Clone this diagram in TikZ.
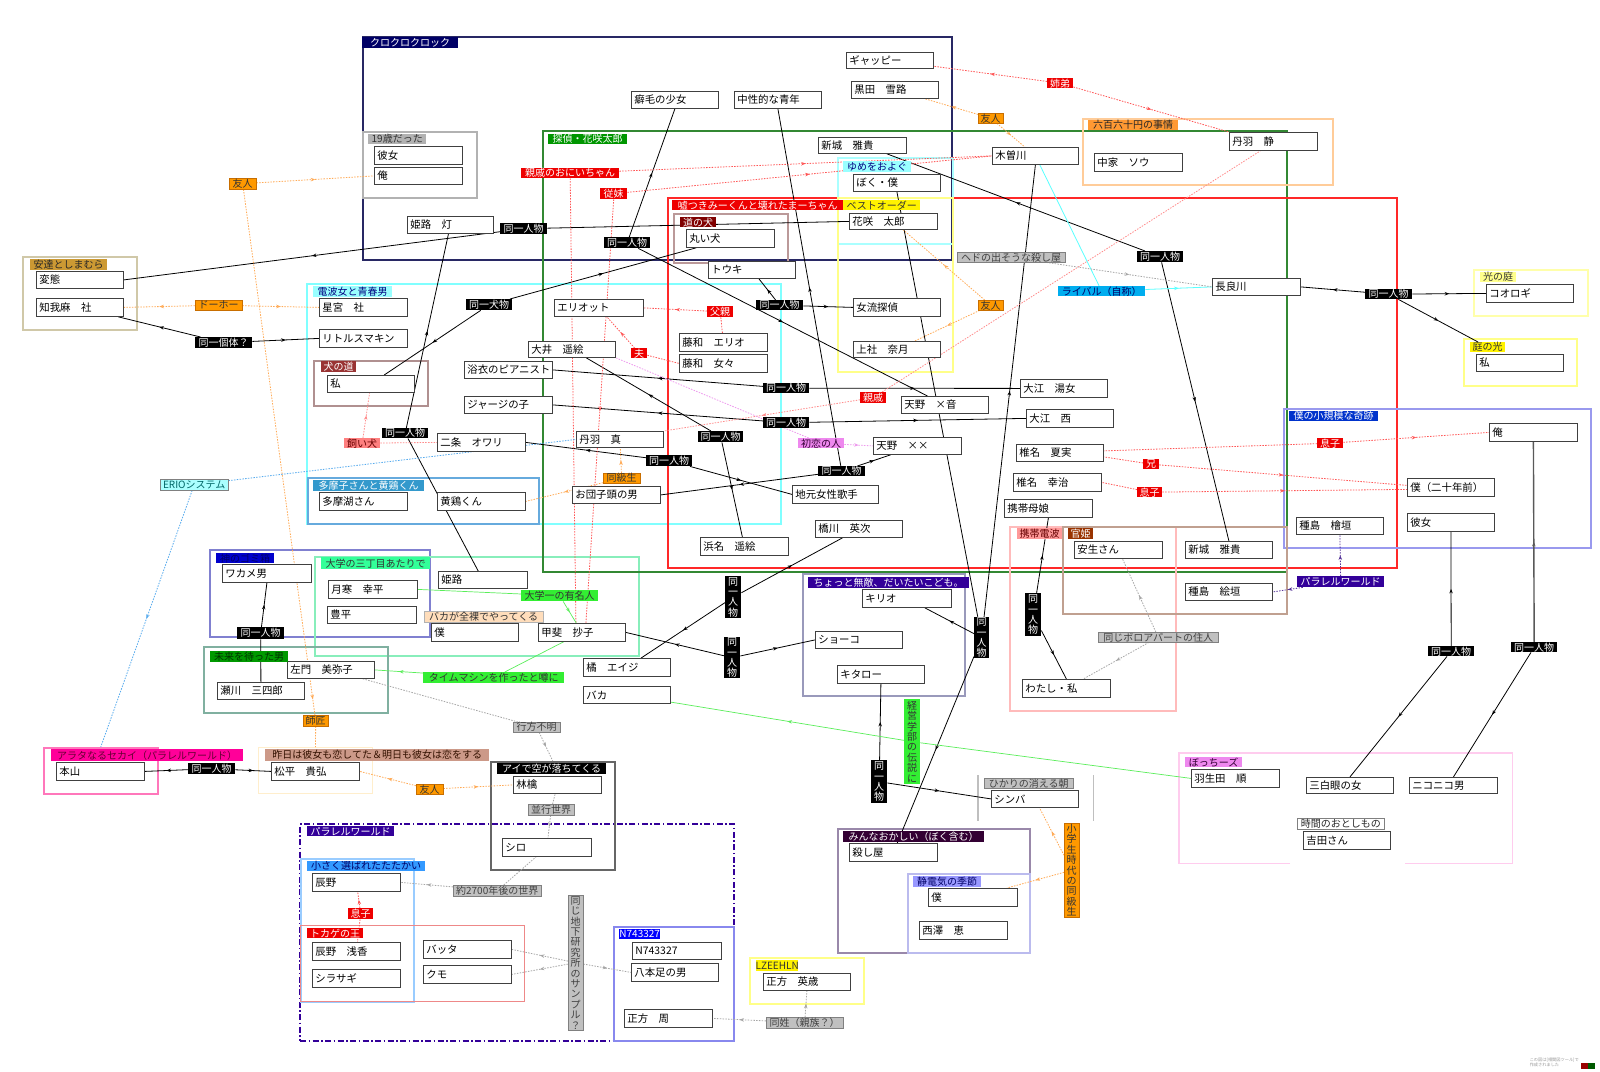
\documentclass[tikz,border=0pt]{standalone}
\usepackage{fontspec}
\newfontfamily\jp{Noto Sans CJK JP}
\usetikzlibrary{decorations.markings,arrows.meta}
\pgfdeclarelayer{bgw}\pgfdeclarelayer{grp}\pgfdeclarelayer{edges}\pgfsetlayers{bgw,grp,edges,main}
\definecolor{cNavy}{HTML}{000066}
\definecolor{cOr}{HTML}{FF9900}
\definecolor{cRd}{HTML}{EE0000}
\definecolor{cGy}{HTML}{C0C0C0}
\definecolor{cBocchi}{HTML}{FFCCEE}
\newcommand\PB[6]{\pgfmathsetmacro\pbw{#4-#2}\pgfmathsetmacro\pbh{#5-#3}\pgfmathsetmacro\pbt{#4-#2-6}\node[pbox,minimum width=\pbw pt,minimum height=\pbh pt,anchor=north west] (#1) at (#2,#3) {\makebox[\pbt pt][l]{#6}};}
\newcommand\LB[7]{\pgfmathsetmacro\pbw{#4-#2}\pgfmathsetmacro\pbh{#5-#3}\pgfmathsetmacro\pbt{#4-#2-2}\node[lab,#6,minimum width=\pbw pt,minimum height=\pbh pt,anchor=north west] (#1) at (#2,#3) {\makebox[\pbt pt][c]{#7}};}
\newcommand\VB[7]{\pgfmathsetmacro\pbw{#4-#2}\pgfmathsetmacro\pbh{#5-#3}\node[vlab,#6,minimum width=\pbw pt,minimum height=\pbh pt,anchor=north west] (#1) at (#2,#3) {#7};}
\newcommand\GB[6]{\pgfmathsetmacro\pbw{#4-#2}\pgfmathsetmacro\pbh{#5-#3}\node[grp,#6,minimum width=\pbw pt,minimum height=\pbh pt,anchor=north west] (#1) at (#2,#3) {};}
\tikzset{
 pbox/.style={draw=black!75,fill=white,line width=0.8pt,inner xsep=3pt,inner ysep=0pt,font=\jp\fontsize{10.4}{12}\selectfont},
 lab/.style={inner xsep=1pt,inner ysep=0pt,font=\jp\fontsize{10}{11}\selectfont},
 vlab/.style={inner sep=0pt,align=center,font=\jp\fontsize{10}{10.4}\selectfont},
 grp/.style={draw,inner sep=0pt,line width=1.5pt},
 lBk/.style={fill=black,text=white},
 lNv/.style={fill=cNavy,text=white},
 lG19/.style={fill=gray!60,text=black!80},
 lAd/.style={fill={rgb,255:red,204;green,153;blue,51},text=black!85},
 lCy/.style={fill={rgb,255:red,153;green,255;blue,255},text={rgb,255:red,0;green,0;blue,128}},
 lInu/.style={fill={rgb,255:red,153;green,51;blue,51},text=white},
 lTm/.style={fill={rgb,255:red,51;green,153;blue,204},text=white},
 lKm/.style={fill={rgb,255:red,0;green,0;blue,204},text={rgb,255:red,0;green,0;blue,102}},
 lDg/.style={fill={rgb,255:red,51;green,255;blue,153},text=black!80},
 lMr/.style={fill={rgb,255:red,0;green,153;blue,0},text={rgb,255:red,0;green,51;blue,0}},
 lGr/.style={fill={rgb,255:red,51;green,238;blue,51},text=black!80},
 lPc/.style={fill={rgb,255:red,255;green,221;blue,187},text=black!80,draw=gray!60,line width=0.4pt},
 lTt/.style={fill={rgb,255:red,0;green,150;blue,0},text=white},
 lRd/.style={fill=cRd,text=white},
 lYl/.style={fill=yellow,text=black!80},
 lYl2/.style={fill={rgb,255:red,255;green,255;blue,140},text=black!80},
 lMc/.style={fill={rgb,255:red,128;green,0;blue,0},text=white},
 lOr/.style={fill=cOr,text=black!80,draw={rgb,255:red,200;green,110;blue,0},line width=0.4pt},
 lRp/.style={fill={rgb,255:red,255;green,153;blue,51},text=black!85},
 lGy/.style={fill=cGy,text=black!75,draw=gray,line width=0.4pt},
 lCy2/.style={fill=cyan,text={rgb,255:red,0;green,0;blue,102}},
 lEr/.style={fill={rgb,255:red,170;green,255;blue,255},text={rgb,255:red,0;green,102;blue,102},draw=gray,line width=0.4pt},
 lPk/.style={fill={rgb,255:red,255;green,128;blue,128},text={rgb,255:red,102;green,0;blue,0}},
 lBl/.style={fill={rgb,255:red,0;green,51;blue,204},text=white},
 lPu/.style={fill={rgb,255:red,51;green,0;blue,153},text=white},
 lKt/.style={fill={rgb,255:red,255;green,153;blue,153},text={rgb,255:red,102;green,0;blue,0}},
 lKn/.style={fill={rgb,255:red,153;green,51;blue,0},text=white},
 lVi/.style={fill={rgb,255:red,238;green,136;blue,238},text={rgb,255:red,51;green,0;blue,51}},
 lMn/.style={fill={rgb,255:red,51;green,0;blue,51},text=white},
 lSd/.style={fill={rgb,255:red,153;green,153;blue,255},text={rgb,255:red,0;green,0;blue,102}},
 lWh/.style={fill=white,text=black!85,draw=gray,line width=0.5pt},
 lMg/.style={fill={rgb,255:red,255;green,0;blue,153},text={rgb,255:red,102;green,0;blue,51}},
 lRb/.style={fill={rgb,255:red,204;green,153;blue,136},text={rgb,255:red,51;green,17;blue,0}},
 lBs/.style={fill={rgb,255:red,51;green,153;blue,255},text={rgb,255:red,0;green,0;blue,102}},
 lBu/.style={fill=blue,text=white},
 ma/.style={postaction={decorate,decoration={markings,mark=at position #1 with {\arrow{Stealth[length=4.5pt,width=3.5pt]}}}}},
 ma/.default=0.5,
 eb/.style={draw=black,line width=0.8pt},
 dt/.style={dash pattern=on 1.5pt off 1.3pt,line width=0.8pt},
 eo/.style={dt,draw={rgb,255:red,255;green,170;blue,85}},
 er/.style={dt,draw={rgb,255:red,255;green,85;blue,85}},
 ep/.style={dt,draw={rgb,255:red,255;green,140;blue,140}},
 ev/.style={dt,draw={rgb,255:red,238;green,153;blue,238}},
 ec/.style={draw={rgb,255:red,90;green,255;blue,255},line width=0.8pt},
 ebl/.style={dt,draw={rgb,255:red,85;green,170;blue,238}},
 eg/.style={draw={rgb,255:red,90;green,238;blue,90},line width=0.7pt},
 egy/.style={dt,draw=gray!70},
 epu/.style={dt,draw={rgb,255:red,85;green,51;blue,153}},
}
\begin{document}
\begin{tikzpicture}[x=1pt,y=-1pt]
\useasboundingbox (0,0) rectangle (1600,1071);
\begin{pgfonlayer}{bgw}
\fill[white] (0,0) rectangle (1600,1071);
\end{pgfonlayer}
% ---------------- groups
\begin{pgfonlayer}{grp}
\GB{gKuro}{362}{36}{951}{259}{draw={rgb,255:red,40;green,40;blue,100},line width=2pt}
\GB{g19}{362}{131}{476}{197}{draw=gray!60}
\GB{gAdachi}{22}{256}{136}{329}{draw={rgb,255:red,208;green,200;blue,168}}
\GB{gDenpa}{306}{283}{780}{523}{draw={rgb,255:red,128;green,255;blue,255},line width=2pt}
\GB{gInu}{313}{360}{427}{405}{draw={rgb,255:red,176;green,144;blue,144}}
\GB{gTama}{307}{477}{538}{523}{draw={rgb,255:red,102;green,170;blue,221}}
\GB{gKami}{209}{549}{429}{636}{draw={rgb,255:red,128;green,128;blue,208}}
\GB{gDaigaku}{314}{556}{638}{655}{draw={rgb,255:red,136;green,238;blue,187}}
\GB{gMirai}{203}{646}{387}{712}{draw={rgb,255:red,128;green,176;blue,160}}
\GB{gTantei}{542}{130}{1286}{571}{draw={rgb,255:red,51;green,136;blue,51},line width=2pt}
\GB{gUso}{667}{197}{1396}{567}{draw={rgb,255:red,255;green,40;blue,40},line width=2.4pt}
\GB{gMichi}{673}{213}{787}{262}{draw={rgb,255:red,187;green,153;blue,153}}
\GB{gYume}{837}{157}{952}{243}{draw={rgb,255:red,170;green,255;blue,255}}
\GB{gBest}{837}{197}{952}{371}{draw={rgb,255:red,255;green,255;blue,136}}
\GB{gRoppyaku}{1082}{118}{1332}{184}{draw={rgb,255:red,255;green,204;blue,153},line width=2pt}
\GB{gHikari}{1473}{269}{1587}{315}{draw={rgb,255:red,255;green,255;blue,170}}
\GB{gNiwa}{1463}{338}{1576}{385}{draw={rgb,255:red,255;green,255;blue,136}}
\GB{gShokibo}{1283}{408}{1590}{547}{draw={rgb,255:red,153;green,153;blue,238}}
\GB{gKeitai}{1009}{526}{1175}{710}{draw={rgb,255:red,255;green,187;blue,187}}
\GB{gKan}{1062}{526}{1286}{613}{draw={rgb,255:red,192;green,160;blue,144}}
\GB{gChotto}{802}{573}{964}{695}{draw={rgb,255:red,153;green,153;blue,187}}
\GB{gHikariM}{978}{775}{1092}{819}{draw=none}
\draw[gray!50,line width=1.2pt] (gHikariM.north west) -- (gHikariM.south west) (gHikariM.north east) -- (gHikariM.south east);
\GB{gMinna}{837}{828}{1029}{952}{draw={rgb,255:red,153;green,136;blue,170}}
\GB{gSeiden}{907}{873}{1029}{952}{draw={rgb,255:red,187;green,187;blue,238}}
\GB{gBocchi}{1179}{753}{1511}{862}{draw=none}
\draw[draw=cBocchi,line width=1.5pt] ([xshift=111pt]gBocchi.south west) -- (gBocchi.south west) -- (gBocchi.north west) -- (gBocchi.north east) -- (gBocchi.south east) -- ([xshift=-108pt]gBocchi.south east);
\GB{gArata}{43}{747}{157}{793}{draw={rgb,255:red,255;green,119;blue,187}}
\GB{gKinou}{258}{747}{372}{793}{draw={rgb,255:red,255;green,238;blue,204},line width=1pt}
\GB{gAi}{490}{761}{614}{869}{draw=gray!80!black}
\GB{gPara}{299}{823}{733}{1040}{draw={rgb,255:red,51;green,0;blue,153},line width=2.2pt,dash pattern=on 6pt off 2.5pt on 1.5pt off 2.5pt}
\GB{gChiisa}{300}{858}{413}{1001}{draw={rgb,255:red,153;green,204;blue,255}}
\GB{gTokage}{300}{925}{524}{1001}{draw={rgb,255:red,238;green,136;blue,136},line width=1pt}
\GB{gN7}{613}{926}{733}{1040}{draw={rgb,255:red,136;green,136;blue,238}}
\GB{gLZ}{749}{957}{863}{1003}{draw={rgb,255:red,255;green,255;blue,136},line width=2pt}
\end{pgfonlayer}
% ---------------- person boxes
\PB{hentai}{36}{271}{123}{288}{変態}
\PB{chigama}{36}{298}{123}{316}{知我麻　社}
\PB{kanojoA}{374}{146}{462}{164}{彼女}
\PB{oreA}{374}{167}{462}{184}{俺}
\PB{himejiT}{407}{216}{493}{233}{姫路　灯}
\PB{kusege}{631}{91}{718}{108}{癖毛の少女}
\PB{chusei}{734}{91}{821}{108}{中性的な青年}
\PB{gyappy}{846}{52}{933}{68}{ギャッピー}
\PB{kuroda}{851}{81}{938}{98}{黒田　雪路}
\PB{shinjoA}{818}{137}{906}{153}{新城　雅貴}
\PB{bokuA}{853}{174}{940}{191}{ぼく・僕}
\PB{hanasaki}{849}{213}{937}{229}{花咲　太郎}
\PB{kisogawa}{992}{147}{1078}{164}{木曽川}
\PB{nakaie}{1094}{153}{1182}{171}{中家　ソウ}
\PB{niwaS}{1229}{132}{1317}{150}{丹羽　静}
\PB{marui}{686}{229}{774}{247}{丸い犬}
\PB{touki}{708}{261}{795}{278}{トウキ}
\PB{hoshimiya}{319}{298}{407}{316}{星宮　社}
\PB{little}{319}{329}{407}{347}{リトルスマキン}
\PB{watashiI}{327}{375}{414}{392}{私}
\PB{eliot}{554}{299}{643}{316}{エリオット}
\PB{fujiwaE}{679}{333}{767}{351}{藤和　エリオ}
\PB{fujiwaM}{679}{354}{767}{372}{藤和　女々}
\PB{ooi}{528}{341}{615}{357}{大井　遥絵}
\PB{yukata}{464}{361}{552}{378}{浴衣のピアニスト}
\PB{jersey}{464}{396}{552}{413}{ジャージの子}
\PB{nijo}{437}{433}{525}{451}{二条　オワリ}
\PB{niwaM}{576}{431}{663}{447}{丹羽　真}
\PB{tama}{319}{492}{407}{510}{多摩湖さん}
\PB{ouke}{437}{492}{525}{510}{黄鶏くん}
\PB{odango}{572}{486}{660}{503}{お団子頭の男}
\PB{jolyu}{853}{298}{940}{316}{女流探偵}
\PB{kamiyashiro}{853}{341}{940}{357}{上社　奈月}
\PB{naga}{1212}{278}{1300}{295}{長良川}
\PB{koorogi}{1486}{284}{1573}{302}{コオロギ}
\PB{watashiR}{1476}{354}{1563}{371}{私}
\PB{ooeY}{1020}{379}{1107}{397}{大江　湯女}
\PB{ooeN}{1026}{409}{1113}{427}{大江　西}
\PB{amanoX}{901}{396}{988}{413}{天野　×音}
\PB{amanoXX}{873}{437}{961}{454}{天野　××}
\PB{jimoto}{792}{485}{878}{503}{地元女性歌手}
\PB{hashikawa}{815}{520}{902}{537}{橋川　英次}
\PB{hamana}{700}{537}{788}{555}{浜名　遥絵}
\PB{shiinaN}{1016}{444}{1103}{461}{椎名　夏実}
\PB{shiinaK}{1013}{473}{1101}{491}{椎名　幸治}
\PB{keitai}{1004}{499}{1092}{517}{携帯母娘}
\PB{oreR}{1489}{423}{1577}{441}{俺}
\PB{bokuT}{1407}{478}{1494}{496}{僕（二十年前）}
\PB{kanojoR}{1407}{513}{1494}{531}{彼女}
\PB{taneH}{1296}{517}{1383}{534}{種島　檜垣}
\PB{anjo}{1074}{541}{1162}{558}{安生さん}
\PB{shinjoB}{1185}{541}{1272}{558}{新城　雅貴}
\PB{taneE}{1185}{583}{1272}{600}{種島　絵垣}
\PB{watashiW}{1022}{679}{1110}{697}{わたし・私}
\PB{wakame}{222}{564}{311}{582}{ワカメ男}
\PB{tsukisamu}{328}{580}{417}{598}{月寒　幸平}
\PB{toyohira}{327}{606}{416}{623}{豊平}
\PB{himeji}{438}{571}{527}{588}{姫路}
\PB{bokuB}{431}{623}{518}{641}{僕}
\PB{kai}{538}{623}{625}{641}{甲斐　抄子}
\PB{samon}{287}{661}{374}{678}{左門　美弥子}
\PB{segawa}{217}{682}{304}{699}{瀬川　三四郎}
\PB{tachibana}{583}{658}{670}{676}{橘　エイジ}
\PB{baka}{583}{686}{670}{703}{バカ}
\PB{kirio}{862}{589}{951}{607}{キリオ}
\PB{shoko}{815}{631}{902}{648}{ショーコ}
\PB{kitaro}{837}{665}{924}{683}{キタロー}
\PB{shinba}{991}{790}{1078}{807}{シンバ}
\PB{koroshi}{849}{843}{937}{861}{殺し屋}
\PB{bokuS}{928}{888}{1017}{906}{僕}
\PB{nishizawa}{919}{921}{1007}{939}{西澤　恵}
\PB{hanyuda}{1191}{769}{1279}{787}{羽生田　順}
\PB{sanpaku}{1306}{777}{1393}{793}{三白眼の女}
\PB{nikoniko}{1409}{777}{1497}{793}{ニコニコ男}
\PB{yoshida}{1303}{831}{1390}{849}{吉田さん}
\PB{motoyama}{56}{762}{144}{780}{本山}
\PB{matsudaira}{271}{762}{359}{780}{松平　貴弘}
\PB{ringo}{513}{776}{601}{793}{林檎}
\PB{shiro}{502}{838}{591}{856}{シロ}
\PB{tatsuno}{312}{873}{400}{891}{辰野}
\PB{tatsunoA}{312}{942}{400}{960}{辰野　浅香}
\PB{shirasagi}{312}{969}{400}{987}{シラサギ}
\PB{batta}{423}{940}{511}{958}{バッタ}
\PB{kumo}{423}{965}{511}{983}{クモ}
\PB{nseven}{632}{942}{721}{959}{N743327}
\PB{happon}{631}{963}{718}{981}{八本足の男}
\PB{masakataS}{624}{1009}{712}{1027}{正方　周}
\PB{masakataE}{763}{973}{850}{990}{正方　英歳}
% ---------------- group labels
\LB{glKuro}{362}{37}{458}{48}{lNv}{クロクロクロック}
\LB{gl19}{368}{134}{426}{144}{lG19}{19歳だった}
\LB{glAdachi}{30}{259}{107}{270}{lAd}{安達としまむら}
\LB{glDenpa}{313}{286}{392}{297}{lCy}{電波女と青春男}
\LB{glInu}{321}{361}{356}{372}{lInu}{犬の道}
\LB{glTama}{313}{480}{424}{491}{lTm}{多摩子さんと黄鶏くん}
\LB{glKami}{216}{553}{274}{563}{lKm}{神のゴミ箱}
\LB{glDaigaku}{321}{557}{430}{569}{lDg}{大学の三丁目あたりで}
\LB{glMirai}{210}{651}{288}{662}{lMr}{未来を待った男}
\LB{glTantei}{548}{134}{627}{144}{lTt}{探偵・花咲太郎}
\LB{glUso}{672}{200}{843}{210}{lRd}{嘘つきみーくんと壊れたまーちゃん}
\LB{glBest}{843}{200}{920}{210}{lYl}{ベストオーダー}
\LB{glMichi}{680}{217}{716}{227}{lMc}{道の犬}
\LB{glYume}{843}{161}{911}{172}{lCy}{ゆめをおよぐ}
\LB{glRoppyaku}{1088}{120}{1178}{130}{lRp}{六百六十円の事情}
\LB{glHikari}{1480}{272}{1516}{282}{lYl2}{光の庭}
\LB{glNiwa}{1470}{342}{1505}{352}{lYl}{庭の光}
\LB{glShokibo}{1289}{411}{1378}{421}{lBl}{僕の小規模な奇跡}
\LB{glKeitai}{1017}{528}{1062}{539}{lKt}{携帯電波}
\LB{glKan}{1068}{528}{1093}{539}{lKn}{官姫}
\LB{glChotto}{808}{577}{969}{588}{lPu}{ちょっと無敵、だいたいこども。}
\LB{glHikariM}{984}{778}{1073}{788}{lGy}{ひかりの消える朝}
\LB{glMinna}{843}{831}{984}{842}{lMn}{みんなおかしい（ぼく含む）}
\LB{glSeiden}{913}{876}{981}{887}{lSd}{静電気の季節}
\LB{glBocchi}{1185}{757}{1242}{767}{lVi}{ぼっちーズ}
\LB{glJikan}{1297}{818}{1384}{829}{lWh}{時間のおとしもの}
\LB{glArata}{51}{749}{243}{761}{lMg}{アラタなるセカイ（パラレルワールド）}
\LB{glKinou}{265}{749}{489}{761}{lRb}{昨日は彼女も恋してた＆明日も彼女は恋をする}
\LB{glAi}{497}{763}{606}{774}{lBk}{アイで空が落ちてくる}
\LB{glPara}{307}{826}{394}{836}{lPu}{パラレルワールド}
\LB{glChiisa}{307}{861}{425}{871}{lBs}{小さく選ばれたたたかい}
\LB{glTokage}{307}{928}{363}{938}{lRd}{トカゲの王}
\LB{glNseven}{619}{929}{660}{939}{lBu}{N743327}
\LB{glLZ}{756}{960}{798}{971}{lYl}{LZEEHLN}
% ---------------- edge labels
\LB{lYujinA}{229}{178}{256}{189}{lOr}{友人}
\LB{lDohoh}{195}{300}{242}{310}{lOr}{ドーホー}
\LB{lKotai}{195}{337}{252}{348}{lBk}{同一個体？}
\LB{lDoA}{500}{223}{547}{234}{lBk}{同一人物}
\LB{lKusege}{604}{237}{650}{248}{lBk}{同一人物}
\LB{lInuB}{466}{299}{512}{310}{lBk}{同一犬物}
\LB{lShinseki}{521}{168}{619}{178}{lRd}{親戚のおにいちゃん}
\LB{lItoko}{600}{188}{627}{199}{lRd}{従妹}
\LB{lChichi}{707}{306}{733}{317}{lRd}{父親}
\LB{lOtto}{631}{348}{647}{358}{lRd}{夫}
\LB{lTouki}{756}{300}{803}{310}{lBk}{同一人物}
\LB{lYujinB}{978}{113}{1003}{123}{lOr}{友人}
\LB{lYujinC}{978}{300}{1003}{310}{lOr}{友人}
\LB{lKyodai}{1047}{78}{1073}{88}{lRd}{姉弟}
\LB{lHedo}{957}{252}{1065}{262}{lGy}{ヘドの出そうな殺し屋}
\LB{lDoE}{1137}{251}{1183}{262}{lBk}{同一人物}
\LB{lRival}{1058}{286}{1145}{296}{lCy2}{ライバル（自称）}
\LB{lDoF}{1365}{289}{1412}{299}{lBk}{同一人物}
\LB{lKaiinu}{344}{438}{380}{448}{lPk}{飼い犬}
\LB{lDoB}{382}{428}{428}{438}{lBk}{同一人物}
\LB{lErio}{160}{479}{228}{490}{lEr}{ERIOシステム}
\LB{lLa}{763}{383}{809}{393}{lBk}{同一人物}
\LB{lLb}{763}{417}{809}{428}{lBk}{同一人物}
\LB{lLc}{698}{431}{743}{442}{lBk}{同一人物}
\LB{lLd}{646}{455}{692}{466}{lBk}{同一人物}
\LB{lLe}{818}{466}{865}{476}{lBk}{同一人物}
\LB{lShinsekiB}{860}{392}{886}{403}{lRd}{親戚}
\LB{lHatsukoi}{798}{438}{844}{448}{lVi}{初恋の人}
\LB{lDokyu}{603}{473}{640}{483}{lOr}{同級生}
\LB{lMusukoA}{1317}{438}{1343}{448}{lRd}{息子}
\LB{lAni}{1143}{459}{1159}{469}{lRd}{兄}
\LB{lMusukoB}{1137}{487}{1162}{497}{lRd}{息子}
\LB{lParaB}{1297}{576}{1384}{587}{lPu}{パラレルワールド}
\LB{lBoro}{1098}{632}{1218}{642}{lGy}{同じボロアパートの住人}
\LB{lYumei}{521}{590}{598}{601}{lGr}{大学一の有名人}
\LB{lBaka}{424}{611}{543}{622}{lPc}{バカが全裸でやってくる}
\LB{lTime}{423}{672}{564}{683}{lGr}{タイムマシンを作ったと噂に}
\LB{lDoI}{237}{627}{284}{639}{lBk}{同一人物}
\LB{lYukue}{513}{722}{560}{732}{lGy}{行方不明}
\LB{lShisho}{303}{715}{328}{726}{lOr}{師匠}
\LB{lDoJ}{188}{763}{235}{774}{lBk}{同一人物}
\LB{lYujinD}{416}{784}{443}{794}{lOr}{友人}
\LB{lHeiko}{528}{804}{574}{815}{lGy}{並行世界}
\LB{lNen}{453}{885}{541}{896}{lGy}{約2700年後の世界}
\LB{lMusukoC}{348}{908}{373}{919}{lRd}{息子}
\LB{lDosei}{766}{1017}{843}{1028}{lGy}{同姓（親族？）}
\LB{lDoG}{1428}{646}{1474}{656}{lBk}{同一人物}
\LB{lDoH}{1511}{642}{1557}{652}{lBk}{同一人物}
\VB{vA}{725}{576}{741}{618}{lBk}{同\\一\\人\\物}
\VB{vB}{724}{637}{740}{678}{lBk}{同\\一\\人\\物}
\VB{vC}{974}{617}{989}{658}{lBk}{同\\一\\人\\物}
\VB{vD}{871}{760}{887}{803}{lBk}{同\\一\\人\\物}
\VB{vE}{1025}{593}{1041}{636}{lBk}{同\\一\\人\\物}
\VB{vKeiei}{904}{699}{920}{784}{lGr}{経\\営\\学\\部\\の\\伝\\説\\に}
\VB{vShogaku}{1064}{823}{1079}{917}{lOr}{小\\学\\生\\時\\代\\の\\同\\級\\生}
\VB{vChika}{568}{895}{583}{1030}{lGy}{同\\じ\\地\\下\\研\\究\\所\\の\\サ\\ン\\プ\\ル\\？}
% credit
\node[anchor=north east,inner sep=0pt,align=left,text=gray!80,font=\jp\fontsize{4.2}{4.6}\selectfont] (credit) at (1579,1058) {この図は[相関図ツール]で\\作成されました};
\node[anchor=north west,inner sep=0pt,minimum width=7pt,minimum height=6pt,fill=red!60!black] (logoA) at (1581,1063) {};
\node[anchor=north west,inner sep=0pt,minimum width=7pt,minimum height=6pt,fill=green!35!black] (logoB) at (1588,1063) {};
% ---------------- edges
\begin{pgfonlayer}{edges}
\draw[eb,ma] (lDoA) -- (hentai.east);
\draw[eb,ma] (lDoA) -- (hanasaki.west);
\draw[eb,ma] (lDoB) -- (himejiT);
\draw[eb,ma] (lDoB) -- (himeji);
\draw[eb,ma] (lInuB) -- (marui);
\draw[eb,ma] (lInuB) -- (watashiI);
\draw[eb,ma] (lKotai) -- (chigama);
\draw[eb,ma] (lKotai) -- (little.west);
\draw[eb,ma] (lKusege) -- (kusege.south);
\draw[eb,ma] (lKusege) -- (amanoX);
\draw[eb,ma] (lTouki) -- (touki);
\draw[eb,ma] (lTouki) -- (jolyu.west);
\draw[eb,ma] (lLa) -- (yukata.east);
\draw[eb,ma] (lLa) -- (ooeY.west);
\draw[eb,ma] (lLb) -- (jersey.east);
\draw[eb,ma] (lLb) -- (ooeN.west);
\draw[eb,ma] (lLc) -- (ooi);
\draw[eb,ma] (lLc) -- (hamana);
\draw[eb,ma] (lLd) -- (nijo.east);
\draw[eb,ma] (lLd) -- (jimoto.west);
\draw[eb,ma] (lLe) -- (odango.east);
\draw[eb,ma] (lLe) -- (amanoXX);
\draw[eb,ma] (lLe) -- (chusei.south);
\draw[eb,ma] (vA) -- (hashikawa);
\draw[eb,ma] (vA) -- (tachibana);
\draw[eb,ma] (vB) -- (kai.east);
\draw[eb,ma] (vB) -- (shoko.west);
\draw[eb,ma] (vC) -- (bokuA.south);
\draw[eb,ma] (vC) -- (kisogawa.south);
\draw[eb,ma] (vC) -- (kirio);
\draw[eb,ma] (vC) -- (koroshi);
\draw[eb,ma] (vD) -- (kitaro.south);
\draw[eb,ma] (vD) -- (shinba.west);
\draw[eb,ma] (lDoE) -- ([xshift=-20pt]shinjoA.south east);
\draw[eb,ma] (lDoE) -- (shinjoB.north);
\draw[eb,ma] (lDoF) -- (naga.east);
\draw[eb,ma] (lDoF) -- (koorogi.west);
\draw[eb,ma] (lDoF) -- (glNiwa);
\draw[eb,ma] (vE) -- (keitai.south);
\draw[eb,ma] (vE) -- (watashiW.north);
\draw[eb,ma] (lDoG) -- (kanojoR.south);
\draw[eb,ma] (lDoG) -- (sanpaku.north);
\draw[draw=gray!70!black,line width=1.4pt,ma] (lDoH) -- (oreR.south);
\draw[eb,ma] (lDoH) -- (nikoniko.north);
\draw[eb,ma] (lDoI) -- (segawa.north);
\draw[eb,ma] (lDoI) -- (wakame.south);
\draw[eb,ma] (lDoJ) -- (motoyama.east);
\draw[eb,ma] (lDoJ) -- (matsudaira.west);
\draw[eo,ma] (lYujinA) -- (oreA.west);
\draw[eo,ma=0.97] (lYujinA) -- (lShisho);
\draw[eo] (lShisho) -- (gKinou.north);
\draw[eo,ma] (lDohoh) -- (chigama.east);
\draw[eo,ma] (lDohoh) -- (hoshimiya.west);
\draw[eo,ma] (lYujinB) -- (kuroda);
\draw[eo,ma] (lYujinB) -- (kisogawa);
\draw[eo,ma] (lYujinC) -- (hanasaki);
\draw[eo,ma] (lYujinC) -- (kamiyashiro);
\draw[eo,ma] (lDokyu) -- (niwaM);
\draw[eo,ma] (lDokyu) -- (ouke.east);
\draw[eo,ma] (lYujinD) -- (matsudaira.east);
\draw[eo,ma] (lYujinD) -- (ringo.west);
\draw[eo,ma] (vShogaku) -- (shinba);
\draw[eo,ma] (vShogaku) -- (bokuS);
\draw[er,ma] (lShinseki) -- (kisogawa.west);
\draw[er] (lShinseki.south) -- ([xshift=-6pt]kai.north);
\draw[er,ma] (lItoko) -- (kisogawa.west);
\draw[er,ma] (lItoko.south) -- ([xshift=4pt]kai.north);
\draw[er,ma] (lChichi) -- (eliot.east);
\draw[er] (lChichi) -- (fujiwaE);
\draw[er] (lOtto) -- (fujiwaM.west);
\draw[er,ma] (lOtto) -- (eliot);
\draw[er,ma] (lKyodai) -- (gyappy);
\draw[er,ma] (lKyodai) -- (niwaS.north west);
\draw[ep,ma] (lShinsekiB) -- (niwaM.north east);
\draw[ep] (lShinsekiB) -- ([xshift=-13pt]niwaS.south);
\draw[ep,ma] (lKaiinu) -- (watashiI);
\draw[ep] (lKaiinu) -- (nijo.west);
\draw[er] (lMusukoA) -- ([yshift=2pt]shiinaN.east);
\draw[er,ma] (lMusukoA) -- (oreR.west);
\draw[er] (lAni) -- ([yshift=-4pt]shiinaN.east);
\draw[er,ma] (lAni) -- ([yshift=2pt]bokuT.west);
\draw[er] (lMusukoB) -- (shiinaK.east);
\draw[er,ma] (lMusukoB) -- ([yshift=-2pt]bokuT.west);
\draw[er,ma] (lMusukoC) -- (tatsuno);
\draw[er] (lMusukoC) -- (tatsunoA);
\draw[ev] (lHatsukoi) -- (ooi.south east);
\draw[ev,ma] (lHatsukoi) -- (amanoXX.west);
\draw[ec] (lRival) -- (kisogawa);
\draw[ec,ma] (lRival) -- (naga.west);
\draw[ebl] (lErio) -- (niwaM.west);
\draw[ebl,ma] (lErio) -- (gArata.north);
\draw[eg,ma] (lTime) -- (samon.east);
\draw[eg] (lTime) -- (kai);
\draw[eg] (lYumei) -- (tsukisamu.east);
\draw[eg,ma] (lYumei) -- (kai);
\draw[eg,ma] (vKeiei) -- (baka);
\draw[eg] (vKeiei) -- (hanyuda.west);
\draw[egy] (lYukue) -- (samon);
\draw[egy,ma] (lYukue) -- (gAi.north);
\draw[egy,ma] (lHedo) -- (naga.west);
\draw[egy] (lHeiko) -- (ringo);
\draw[egy,ma] (lHeiko) -- (shiro);
\draw[egy,ma] (lNen) -- (tatsuno.east);
\draw[egy] (lNen) -- (shiro);
\draw[egy,ma] (vChika) -- (batta.east);
\draw[egy,ma] (vChika) -- (kumo.east);
\draw[egy,ma] (vChika) -- (happon.west);
\draw[egy,ma] (lDosei) -- (masakataE.south);
\draw[egy,ma] (lDosei) -- (masakataS.east);
\draw[egy,ma] (lBoro) -- (anjo);
\draw[egy,ma] (lBoro) -- (watashiW);
\draw[epu,ma] (lParaB) -- (taneE.east);
\draw[epu,ma] (lParaB) -- (taneH.south);
\end{pgfonlayer}
\end{tikzpicture}
\end{document}
